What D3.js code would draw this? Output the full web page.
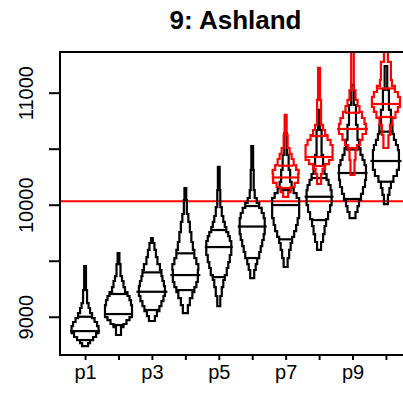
<!DOCTYPE html>
<html>
<head>
<meta charset="utf-8">
<script src="https://cdn.jsdelivr.net/npm/d3@7"></script>
<style>
  html, body { margin: 0; padding: 0; background: #fff; }
  svg { display: block; font-family: "Liberation Sans", Arial, sans-serif; }
</style>
</head>
<body>
<svg id="chart" width="403" height="396"></svg>
<script>
// Periods on the x axis
const categories = ["p1", "p2", "p3", "p4", "p5", "p6", "p7", "p8", "p9", "p10"];
const xTickLabels = ["p1", "p3", "p5", "p7", "p9"];
const yTicks = [9000, 9500, 10000, 10500, 11000];
const yTickLabels = [9000, 10000, 11000];
const referenceLevel = 10030;
const title = "9: Ashland";

// Stepped density profiles: [value, density] from the lowest bin up; last entry is the tip.
const baseProfiles = [
  [[8738,3],[8765,5],[8792,8],[8819,11],[8854,13.5],[8917,12],[8953,9.5],[8988,7],[9033,5],[9078,3.5],[9122,2],[9238,0.9],[9453,0]],
  [[8837,2.5],[8908,5],[8935,8],[8970,11],[8997,13.5],[9104,12.5],[9149,11],[9185,9],[9220,6.5],[9265,5],[9319,3.5],[9363,2],[9470,0.9],[9569,0]],
  [[8962,3],[9006,5],[9051,7.5],[9095,9.5],[9140,11.5],[9185,13],[9274,12],[9319,10.5],[9363,9.5],[9417,8],[9470,5.5],[9533,4],[9596,2.5],[9658,0.9],[9703,0]],
  [[9033,2.5],[9104,4.5],[9167,7],[9220,9],[9265,11],[9310,12.5],[9417,13],[9470,11],[9524,9],[9596,7.5],[9667,6],[9756,4.5],[9846,3],[9917,1.5],[10042,0.9],[10149,0]],
  [[9095,1.5],[9185,3],[9265,4.5],[9328,6],[9372,8],[9435,9.5],[9488,11],[9551,12.5],[9676,11],[9720,9.5],[9756,7.5],[9801,6],[9846,4.5],[9899,3],[9979,1.5],[10131,0.9],[10337,0]],
  [[9345,2],[9417,3.5],[9470,5],[9524,7],[9578,8.5],[9631,10],[9685,11.5],[9738,12.5],[9881,11.5],[9926,9.5],[9971,7],[10015,4.5],[10060,2.5],[10131,1.5],[10310,0.9],[10524,0]],
  [[9444,2],[9524,3.5],[9596,5],[9658,6.5],[9712,8.5],[9765,10.5],[9819,12],[9881,13.5],[10060,11],[10104,8],[10149,6],[10203,4.5],[10310,3],[10444,1.3],[10640,0]],
  [[9596,2],[9667,4],[9738,5.5],[9810,7],[9872,9],[9935,11],[9997,12.5],[10131,11.5],[10176,9.5],[10221,7.5],[10274,5.5],[10354,4],[10444,2.5],[10667,1],[10846,0]],
  [[9881,3],[9935,5],[9988,6.5],[10042,8.5],[10096,10.5],[10158,12.5],[10221,13.5],[10354,12],[10399,10],[10444,8],[10506,6.5],[10578,5],[10712,3.5],[10890,1.3],[11069,0]],
  [[10006,2],[10087,3.5],[10149,5],[10203,7.5],[10256,11],[10310,13],[10488,12],[10533,10],[10578,8],[10631,6.5],[10712,5],[10846,3],[11024,1.3],[11238,0]]
];
// Summary lines: [value, density width]
const baseLines = [
  [[8792,6],[8872,15],[9000,7.5]],
  [[8926,6],[9024,14.5],[9203,8.5]],
  [[9060,7.5],[9223,15.5],[9396,9]],
  [[9238,9],[9372,15],[9566,8.5]],
  [[9354,7],[9622,14],[9774,7.5]],
  [[9524,6.5],[9805,14.5],[9988,6.5]],
  [[9691,7],[9997,14.5],[10131,6]],
  [[9863,7.5],[10071,14.5],[10238,7]],
  [[10051,7.5],[10283,15],[10493,7]],
  [[10205,7.5],[10390,15.5],[10652,7.5]]
];

// Alternative scenario, later periods only
const altCategories = ["p7", "p8", "p9", "p10"];
const altProfiles = [
  [[10069,2.5],[10113,5],[10158,9],[10194,12.5],[10274,13],[10310,10.5],[10354,8],[10408,6],[10453,4],[10506,2],[10622,1],[10801,0]],
  [[10185,2],[10274,3.5],[10319,6],[10363,10],[10399,13.5],[10533,11.5],[10578,8.5],[10622,6],[10667,4],[10712,2],[10935,1],[11221,0]],
  [[10265,2],[10399,3],[10488,4.5],[10533,7.5],[10578,10],[10631,13.5],[10721,12],[10774,9.5],[10828,7],[10881,5],[10935,3],[11024,1.3],[11471,0]],
  [[10506,2.5],[10622,4],[10712,6.5],[10774,9.5],[10828,12],[10872,14],[10962,12],[11006,9],[11060,6],[11113,5],[11274,2],[11471,0]]
];
const altLines = [
  [[10149,6],[10243,14],[10348,7.5]],
  [[10346,7],[10426,14],[10613,7.5]],
  [[10506,6],[10676,15.5],[10821,7.5]],
  [[10783,7.5],[10899,15],[11038,9.5]]
];

const svg = d3.select("#chart");
const plot = { left: 60, right: 411, top: 52, bottom: 355 };
const stroke = 2.2;

const x = d3.scaleLinear().domain([0.25, categories.length + 0.75]).range([plot.left, plot.right]);
const y = d3.scaleLinear().domain([8658.5, 11363]).range([plot.bottom, plot.top]);
const w = d3.scaleLinear().domain([0, 16]).range([0, 16]);
const xPos = name => x(categories.indexOf(name) + 1);

svg.append("defs").append("clipPath").attr("id", "plotClip")
  .append("rect")
  .attr("x", plot.left).attr("y", plot.top)
  .attr("width", plot.right - plot.left).attr("height", plot.bottom - plot.top);

const area = svg.append("g").attr("clip-path", "url(#plotClip)");

// Reference level
area.append("line")
  .attr("x1", plot.left).attr("x2", plot.right)
  .attr("y1", y(referenceLevel)).attr("y2", y(referenceLevel))
  .attr("stroke", "#ff0000").attr("stroke-width", 2);

const line = d3.line();

function outline(cx, prof) {
  const right = [], left = [];
  for (let i = 0; i < prof.length - 1; i++) {
    const hw = w(prof[i][1]);
    const y0 = y(prof[i][0]), y1 = y(prof[i + 1][0]);
    right.push([cx + hw, y0], [cx + hw, y1]);
    left.push([cx - hw, y0], [cx - hw, y1]);
  }
  return line(right.concat(left.reverse())) + "Z";
}

function drawSet(names, profiles, lines, color) {
  const g = area.append("g");
  names.forEach((name, i) => {
    const cx = xPos(name);
    g.append("path")
      .attr("d", outline(cx, profiles[i]))
      .attr("fill", "none")
      .attr("stroke", color)
      .attr("stroke-width", stroke)
      .attr("stroke-linejoin", "miter");
    g.selectAll(null).data(lines[i]).enter().append("line")
      .attr("x1", d => cx - w(d[1])).attr("x2", d => cx + w(d[1]))
      .attr("y1", d => y(d[0])).attr("y2", d => y(d[0]))
      .attr("stroke", color).attr("stroke-width", stroke);
  });
}

drawSet(categories, baseProfiles, baseLines, "#000");
drawSet(altCategories, altProfiles, altLines, "#ff0000");

// Frame
svg.append("rect")
  .attr("x", plot.left).attr("y", plot.top)
  .attr("width", plot.right - plot.left).attr("height", plot.bottom - plot.top)
  .attr("fill", "none").attr("stroke", "#000").attr("stroke-width", 2);

// Y axis
const yAxis = svg.append("g")
  .attr("transform", `translate(${plot.left},0)`)
  .call(d3.axisLeft(y).tickValues(yTicks).tickSize(11)
    .tickFormat(d => yTickLabels.includes(d) ? String(d) : ""));
yAxis.select(".domain").remove();
yAxis.selectAll(".tick line").attr("stroke", "#000").attr("stroke-width", 2);
yAxis.selectAll(".tick text")
  .attr("transform", "rotate(-90)")
  .attr("x", 0).attr("y", -27).attr("dy", 0)
  .attr("text-anchor", "middle")
  .attr("font-size", 20).attr("fill", "#000")
  .attr("font-family", "Liberation Sans, Arial, sans-serif");

// X axis
const xAxis = svg.append("g")
  .attr("transform", `translate(0,${plot.bottom})`)
  .call(d3.axisBottom(x).tickValues(d3.range(1, categories.length + 1)).tickSize(5)
    .tickFormat(d => xTickLabels.includes(categories[d - 1]) ? categories[d - 1] : ""));
xAxis.select(".domain").remove();
xAxis.selectAll(".tick line").attr("stroke", "#000").attr("stroke-width", 2);
xAxis.selectAll(".tick text")
  .attr("y", 24).attr("dy", 0)
  .attr("font-size", 20).attr("fill", "#000")
  .attr("font-family", "Liberation Sans, Arial, sans-serif");

// Title
svg.append("text")
  .attr("x", (plot.left + plot.right) / 2).attr("y", 29)
  .attr("text-anchor", "middle")
  .attr("font-size", 26).attr("font-weight", "bold")
  .text(title);
</script>
</body>
</html>
